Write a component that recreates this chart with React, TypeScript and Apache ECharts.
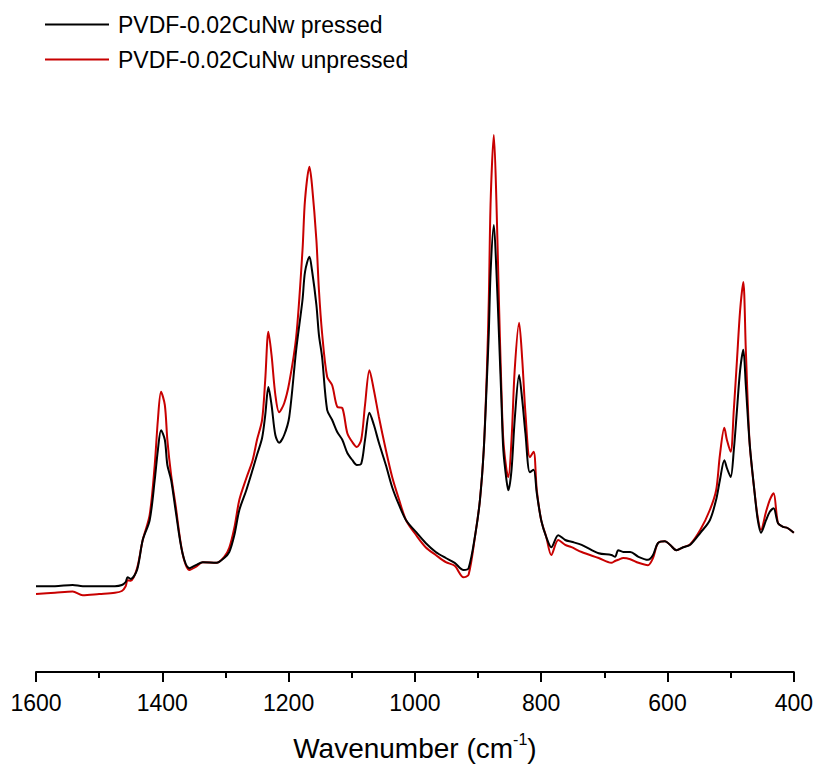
import React, { useEffect, useRef } from "react";
import * as echarts from "echarts";

const wavenumbers = [1600,1570,1542,1526,1500,1475,1464,1458,1455,1450,1440,1431,1420,1412,1407,1402,1396,1392,1386,1379,1368,1357,1347,1336,1314,1302,1294,1286,1278,1267,1257,1250,1242,1237,1232,1227,1221,1215,1207,1199,1188,1178,1174,1167,1163,1156,1152,1147,1139,1131,1123,1115,1107,1099,1092,1085,1079,1072,1065,1057,1046,1036,1025,1014,998,983,967,951,937,923,915,904,897,891,886,883,880,875,871,867,863,860,855,852,847,842,835,830,825,818,812,807,800,792,784,773,762,752,736,709,689,683,678,670,659,646,631,623,615,604,596,586,575,564,548,533,523,517,510,506,500,495,490,485,480,476,470,462,457,452,444,438,432,425,417,410,400];

const pressed = [14.3,14.3,14.5,14.3,14.3,14.3,14.5,15.0,15.8,15.5,17.0,22.0,25.3,32.0,37.0,40.3,38.7,34.5,32.0,27.0,19.8,17.3,17.8,18.3,18.2,19.0,20.0,22.8,27.0,30.3,33.7,36.2,39.0,42.8,47.5,44.5,39.5,38.2,39.5,42.5,53.7,62.0,66.7,69.2,67.0,61.2,56.2,52.5,43.7,42.0,40.0,38.7,36.5,35.3,34.5,34.7,38.7,43.2,41.2,38.2,34.5,30.8,27.8,25.3,23.3,21.5,20.0,19.0,18.2,17.0,17.3,23.2,28.7,37.0,48.7,56.5,67.0,74.5,67.0,56.5,45.3,37.0,32.0,30.3,33.7,42.0,49.5,45.3,39.8,33.3,33.7,29.8,25.3,22.5,20.8,22.8,22.0,21.7,21.2,19.8,19.5,19.2,20.3,20.0,20.0,19.2,18.7,19.5,21.5,21.8,21.2,20.3,20.8,21.2,23.2,25.3,28.7,32.0,35.3,34.0,32.5,37.0,43.7,50.3,53.7,47.8,38.2,29.8,25.3,23.2,25.3,26.7,27.3,24.8,24.2,24.0,23.2];

const unpressed = [13.0,13.2,13.4,12.8,13.0,13.2,13.5,14.3,15.3,15.2,17.3,22.0,26.2,34.5,42.0,46.7,44.5,38.7,32.8,27.8,19.8,17.0,17.5,18.3,18.2,19.2,20.7,24.0,28.7,32.3,35.3,38.7,42.0,48.7,56.7,52.8,46.2,43.3,44.8,48.2,55.8,70.3,78.7,84.2,81.2,72.0,63.7,56.5,49.2,47.8,44.2,44.0,39.8,38.3,37.5,38.7,44.5,50.3,47.0,42.5,37.0,32.5,28.7,25.3,22.8,20.8,19.5,18.3,17.7,15.8,16.2,23.2,28.7,37.0,50.3,62.0,78.7,89.5,78.7,62.0,47.0,38.7,33.7,32.5,38.7,50.3,58.2,52.0,43.2,35.8,36.7,30.3,25.3,22.5,19.5,22.0,21.2,20.8,20.0,19.0,18.2,18.5,18.7,19.0,18.8,18.2,17.8,19.0,21.5,21.8,21.2,20.3,20.8,21.3,23.7,27.0,30.3,36.2,40.7,38.7,36.7,43.7,52.0,60.3,65.0,53.7,38.2,29.8,25.7,23.7,26.7,28.7,29.8,24.8,24.2,24.0,23.2];

const seriesNames = ["PVDF-0.02CuNw pressed", "PVDF-0.02CuNw unpressed"];
const xTicks = [1600, 1400, 1200, 1000, 800, 600, 400];

const FONT = '"Liberation Sans", Arial, sans-serif';

export default function App() {
  const ref = useRef<HTMLDivElement>(null);
  useEffect(() => {
    document.body.style.margin = "0";
    const chart = echarts.init(ref.current!, null, { renderer: "svg" });
    const toPairs = (ys: number[]) => wavenumbers.map((w, i) => [w, ys[i]]);
    chart.setOption({
      animation: false,
      backgroundColor: "#ffffff",
      legend: {
        data: seriesNames,
        orient: "vertical",
        left: 40,
        top: 8,
        itemWidth: 64,
        itemHeight: 2,
        itemGap: 12,
        icon: "rect",
        textStyle: { fontFamily: FONT, fontSize: 23, color: "#000", padding: [0, 0, 0, 4] },
      },
      grid: { left: 36, right: 20, top: 72, bottom: 96 },
      xAxis: {
        type: "value",
        min: 400,
        max: 1600,
        interval: 200,
        inverse: true,
        axisLine: { lineStyle: { color: "#000", width: 2 } },
        axisTick: { show: true, length: 10, lineStyle: { color: "#000", width: 2 } },
        minorTick: { show: true, splitNumber: 2, length: 6, lineStyle: { color: "#000", width: 2 } },
        splitLine: { show: false },
        axisLabel: {
          fontFamily: FONT,
          fontSize: 23,
          color: "#000",
          margin: 17,
          formatter: (v: number) => (xTicks.includes(v) ? String(v) : ""),
        },
        name: "{a|Wavenumber (cm}{s|-1}{a|)}",
        nameLocation: "middle",
        nameGap: 57,
        nameTextStyle: {
          rich: {
            a: { fontFamily: FONT, fontSize: 28, color: "#000", lineHeight: 34 },
            s: { fontFamily: FONT, fontSize: 16, color: "#000", verticalAlign: "top", lineHeight: 34, padding: [0, 0, 12, 0] },
          },
        },
      },
      yAxis: { type: "value", min: -0.333, max: 100, show: false },
      series: [
        {
          name: seriesNames[1],
          type: "line",
          data: toPairs(unpressed),
          showSymbol: false,
          smooth: 0.3,
          lineStyle: { color: "#c80000", width: 2 },
          itemStyle: { color: "#c80000" },
        },
        {
          name: seriesNames[0],
          type: "line",
          data: toPairs(pressed),
          showSymbol: false,
          smooth: 0.3,
          lineStyle: { color: "#000000", width: 2 },
          itemStyle: { color: "#000000" },
        },
      ],
    });
    return () => chart.dispose();
  }, []);
  return <div ref={ref} style={{ width: 816, height: 770 }} />;
}
